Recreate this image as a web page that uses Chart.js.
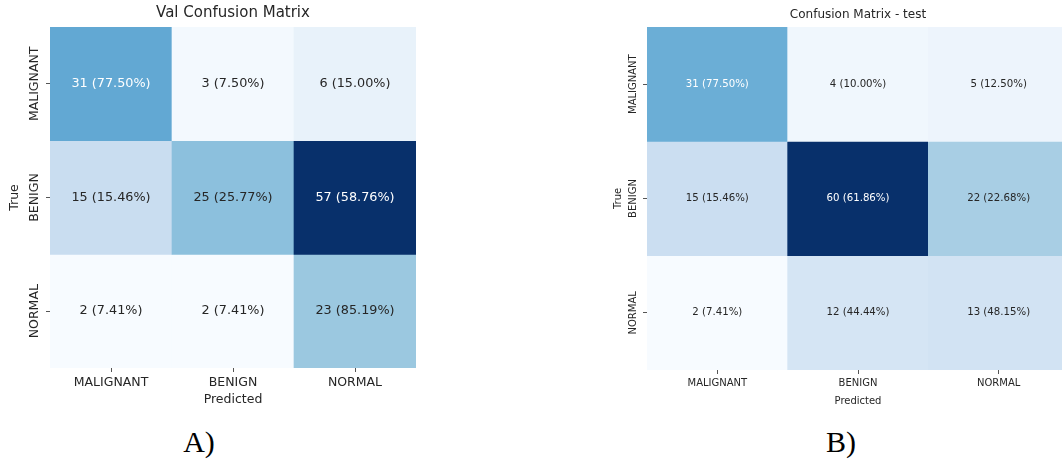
<!DOCTYPE html>
<html><head><meta charset="utf-8">
<script src="https://cdn.jsdelivr.net/npm/chart.js@4.4.1/dist/chart.umd.min.js"></script>
<style>
body{margin:0;background:#fff;width:1062px;height:459px;overflow:hidden;position:relative}
.wrap{position:absolute;top:0;overflow:hidden}
.cap{position:absolute;font-family:'Liberation Serif','Times New Roman',serif;font-size:30px;line-height:30px;color:#000;transform:translateX(-50%);white-space:nowrap}
</style></head><body>
<div class="wrap" style="left:0;width:450px;height:420px"><canvas id="c1" width="450" height="420"></canvas></div>
<div class="wrap" style="left:580px;width:482px;height:420px"><canvas id="c2" width="490" height="420"></canvas></div>
<div class="cap" style="left:199px;top:427px">A)</div>
<div class="cap" style="left:841px;top:427px">B)</div>
<script>
// ---- data ----
const classLabels = ['MALIGNANT', 'BENIGN', 'NORMAL'];
const valCounts = [[31, 3, 6], [15, 25, 57], [2, 2, 23]];
const valPercents = [[77.50, 7.50, 15.00], [15.46, 25.77, 58.76], [7.41, 7.41, 85.19]];
const testCounts = [[31, 4, 5], [15, 60, 22], [2, 12, 13]];
const testPercents = [[77.50, 10.00, 12.50], [15.46, 61.86, 22.68], [7.41, 44.44, 48.15]];

// ---- Blues colormap ----
const bluesAnchors = [[247,251,255],[222,235,247],[198,219,239],[158,202,225],[107,174,214],[66,146,198],[33,113,181],[8,81,156],[8,48,107]];
function blues(t) {
  t = Math.max(0, Math.min(1, t));
  const p = t * (bluesAnchors.length - 1);
  const i = Math.min(Math.floor(p), bluesAnchors.length - 2);
  const f = p - i;
  const a = bluesAnchors[i], b = bluesAnchors[i + 1];
  return a.map((v, k) => Math.round(v + (b[k] - v) * f));
}
function lum(rgb) {
  const c = rgb.map(v => { v /= 255; return v <= 0.03928 ? v / 12.92 : Math.pow((v + 0.055) / 1.055, 2.4); });
  return 0.2126 * c[0] + 0.7152 * c[1] + 0.0722 * c[2];
}

Chart.defaults.font.family = "'DejaVu Sans', sans-serif";
Chart.defaults.color = '#262626';

const cellText = {
  id: 'cellText',
  afterDatasetsDraw(chart, args, o) {
    const ctx = chart.ctx;
    ctx.save();
    ctx.font = o.size + "px 'DejaVu Sans'";
    ctx.textAlign = 'center';
    ctx.textBaseline = 'middle';
    chart.data.datasets.forEach((ds, r) => {
      chart.getDatasetMeta(r).data.forEach((el, c) => {
        ctx.fillStyle = ds.textColors[c];
        ctx.fillText(ds.counts[c] + ' (' + ds.pcts[c].toFixed(2) + '%)', el.x, (el.y + el.base) / 2);
      });
    });
    ctx.restore();
  }
};
const yLabels = {
  id: 'yLabels',
  afterDraw(chart, args, o) {
    const ctx = chart.ctx, ys = chart.scales.y;
    ctx.save();
    ctx.font = o.size + "px 'DejaVu Sans'";
    ctx.fillStyle = '#262626';
    ctx.textAlign = 'center';
    ctx.textBaseline = 'middle';
    classLabels.forEach((lab, i) => {
      ctx.save();
      ctx.translate(chart.chartArea.left - o.dx, ys.getPixelForValue(i));
      ctx.rotate(-Math.PI / 2);
      ctx.fillText(lab, 0, 0);
      ctx.restore();
    });
    ctx.restore();
  }
};

function makeChart(id, counts, pcts, title, s) {
  const flat = counts.flat();
  const mn = Math.min(...flat), mx = Math.max(...flat);
  const datasets = counts.map((row, r) => {
    const cols = row.map(v => blues((v - mn) / (mx - mn)));
    return {
      label: classLabels[r],
      data: row.map(() => [r - 0.5, r + 0.5]),
      counts: row,
      pcts: pcts[r],
      backgroundColor: cols.map(c => 'rgb(' + c.join(',') + ')'),
      textColors: cols.map(c => lum(c) < 0.408 ? '#ffffff' : '#262626'),
      borderWidth: 0,
      grouped: false,
      barPercentage: 1,
      categoryPercentage: 1
    };
  });
  return new Chart(document.getElementById(id), {
    type: 'bar',
    data: { labels: classLabels, datasets },
    plugins: [cellText, yLabels],
    options: {
      responsive: false,
      devicePixelRatio: 1,
      animation: false,
      events: [],
      layout: { padding: { top: 0, left: 0, right: s.padRight, bottom: 0 } },
      plugins: {
        legend: { display: false },
        tooltip: { enabled: false },
        title: {
          display: true, text: title, fullSize: false,
          font: { size: s.titleSize, weight: 'normal' }, color: '#262626',
          padding: { top: s.titlePadTop, bottom: s.titlePadBottom }
        },
        cellText: { size: s.cellSize },
        yLabels: { size: s.tickSize, dx: s.yLabelDx }
      },
      scales: {
        x: {
          type: 'category',
          offset: true,
          grid: { display: true, drawOnChartArea: false, drawTicks: true, tickLength: 4, offset: false, color: '#555' },
          border: { display: false },
          ticks: { font: { size: s.tickSize }, color: '#262626', padding: s.xTickPad, maxRotation: 0 },
          title: { display: true, text: 'Predicted', font: { size: s.tickSize }, color: '#262626', padding: { top: 0, bottom: s.xTitlePad } },
          afterFit(sc) { sc.height = s.xHeight; }
        },
        y: {
          type: 'linear',
          min: -0.5, max: 2.5, reverse: true,
          afterBuildTicks(sc) { sc.ticks = [0, 1, 2].map(v => ({ value: v })); },
          grid: { display: true, drawOnChartArea: false, drawTicks: true, tickLength: 4, color: '#555' },
          border: { display: false },
          ticks: { display: false },
          title: { display: true, text: 'True', font: { size: s.tickSize }, color: '#262626', padding: { top: s.yTitlePad, bottom: 0 } },
          afterFit(sc) { sc.width = s.yWidth; }
        }
      }
    }
  });
}

makeChart('c1', valCounts, valPercents, 'Val Confusion Matrix', {
  padRight: 34, titleSize: 15, titlePadTop: 4, titlePadBottom: 5,
  cellSize: 12.8, tickSize: 12.5, yLabelDx: 15, xTickPad: 3.5, xTitlePad: 12.5,
  xHeight: 52, yWidth: 50, yTitlePad: 7.5
});
makeChart('c2', testCounts, testPercents, 'Confusion Matrix - test', {
  padRight: 1, titleSize: 12, titlePadTop: 8, titlePadBottom: 4.6,
  cellSize: 10.2, tickSize: 10, yLabelDx: 14, xTickPad: 3, xTitlePad: 13,
  xHeight: 50, yWidth: 67, yTitlePad: 32
});
</script>
</body></html>
